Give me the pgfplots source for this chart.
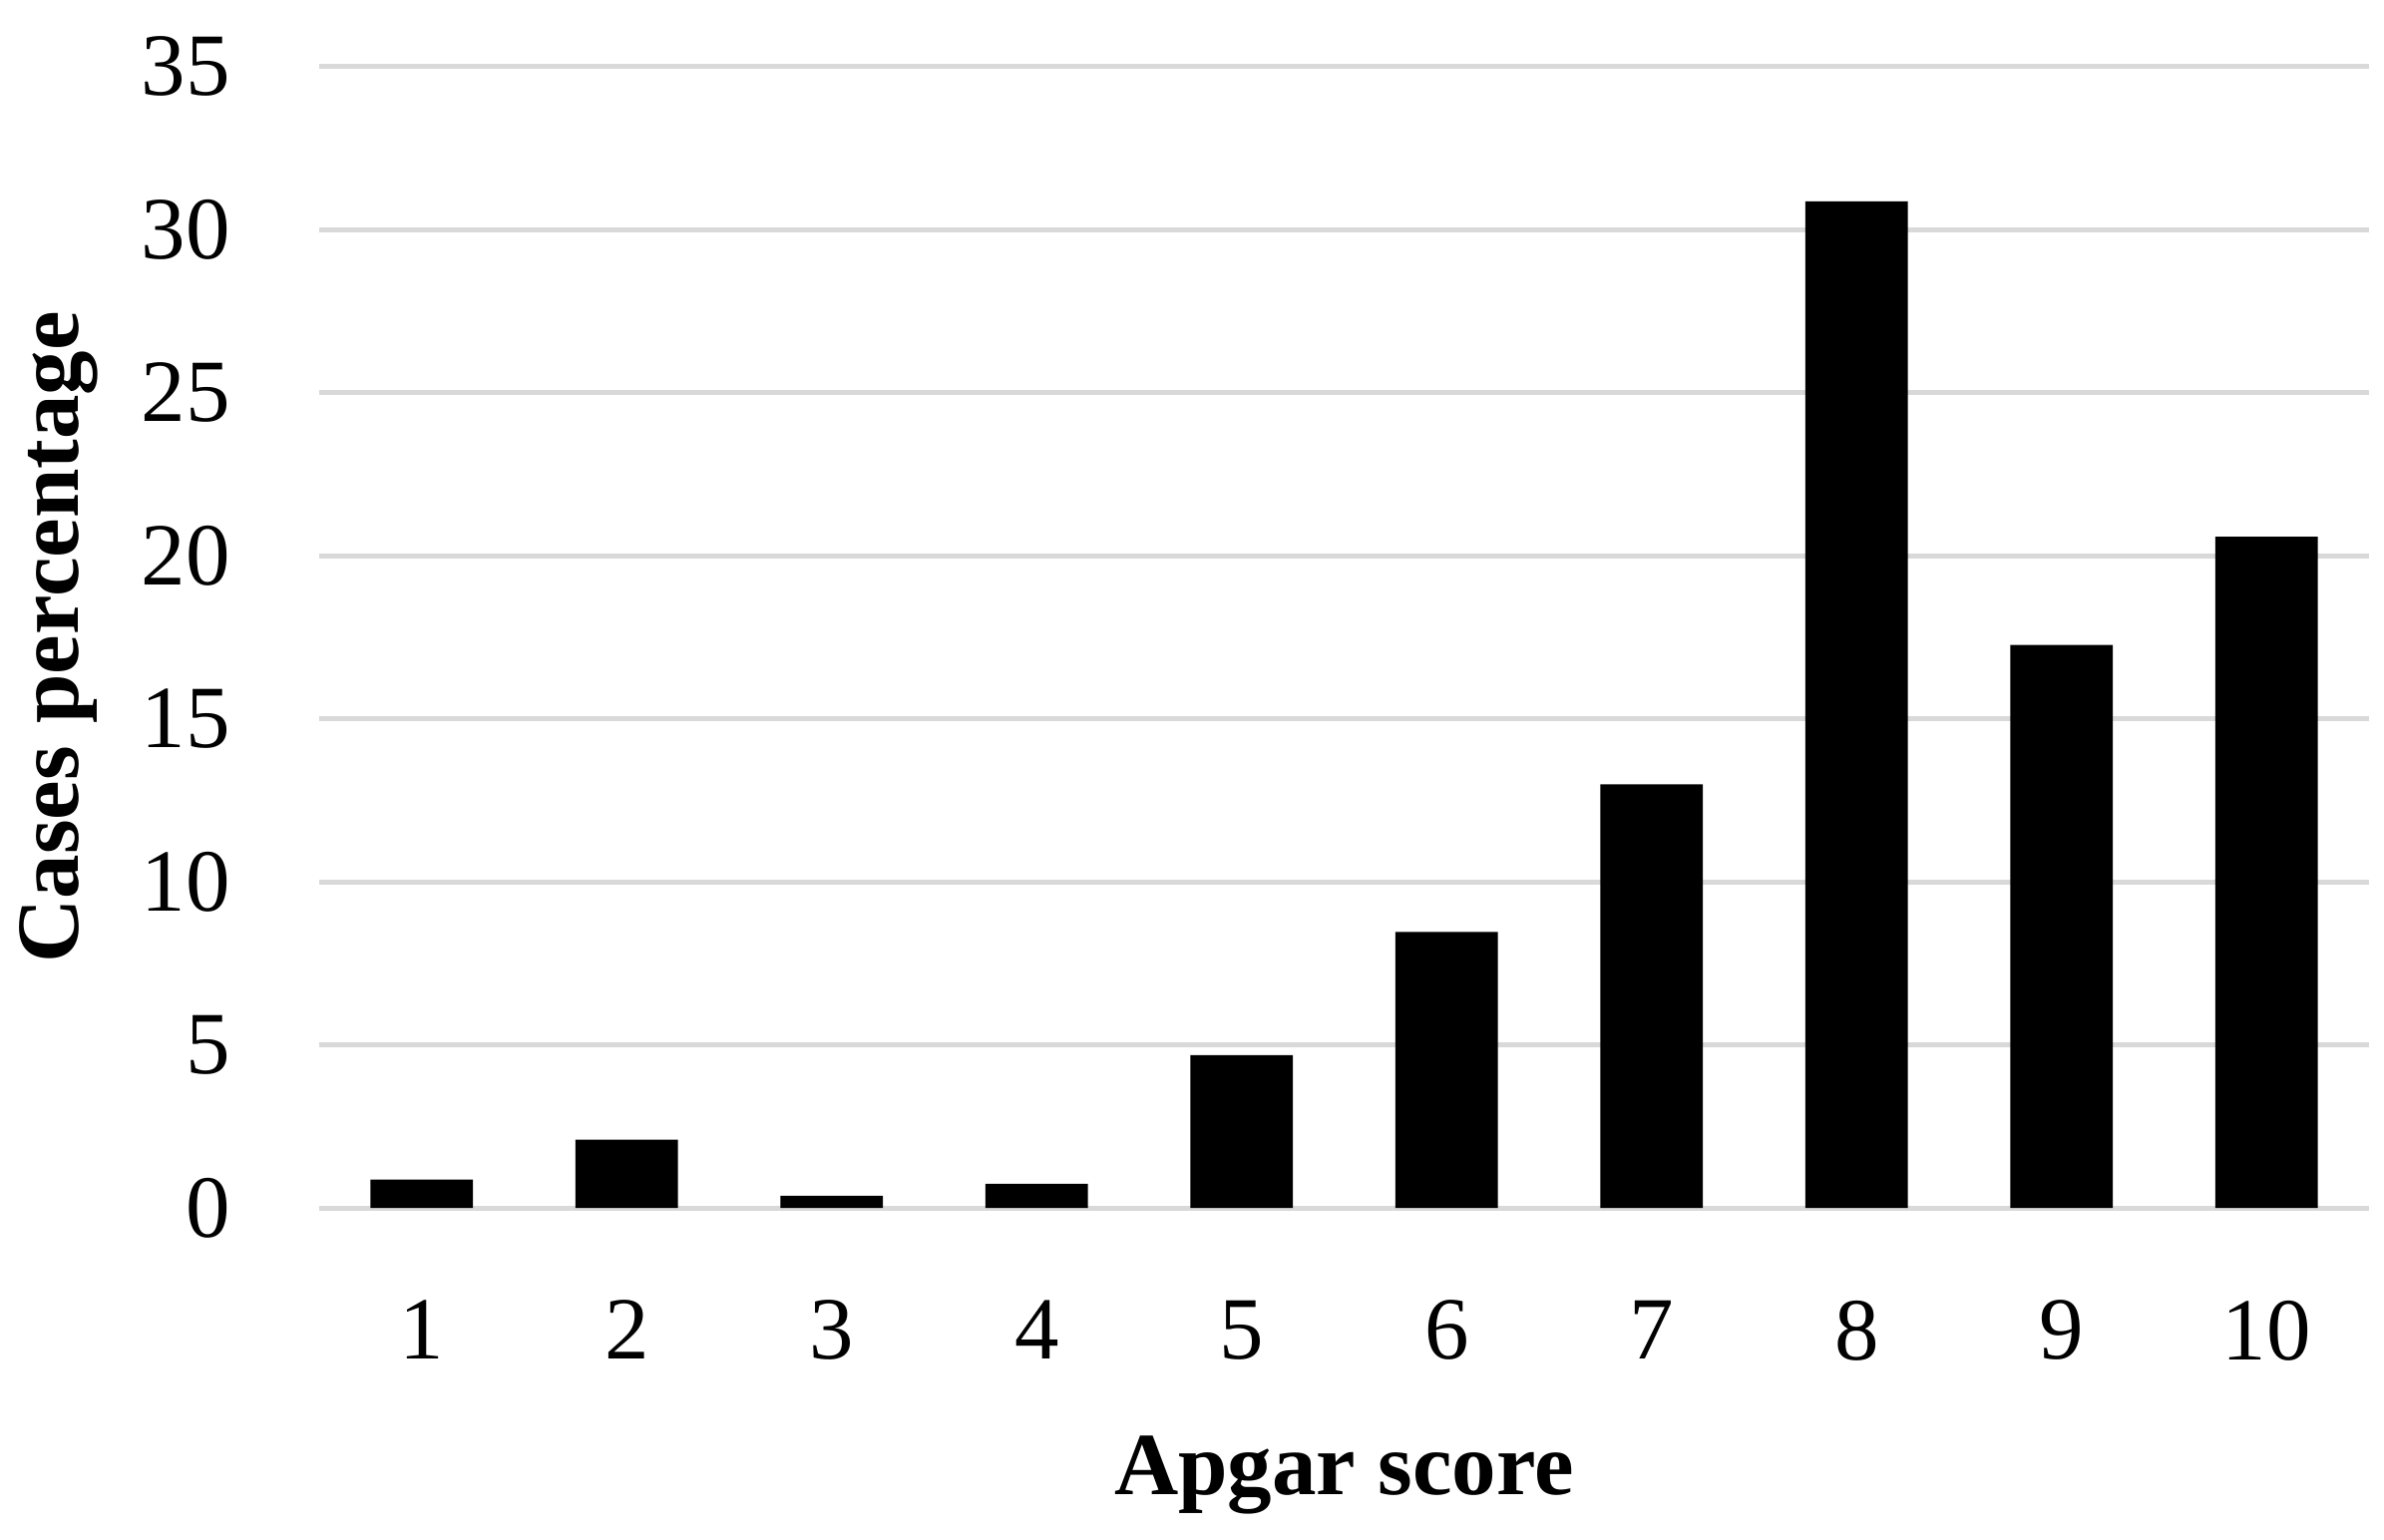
\documentclass[border=0pt]{standalone}
\usepackage{fontspec}
\setmainfont{Liberation Serif}
\usepackage{pgfplots}
\pgfplotsset{compat=1.18}
\begin{document}
\begin{tikzpicture}
\useasboundingbox (-64pt,-66.4pt) rectangle (414pt,242.2pt);
\begin{axis}[
  at={(0,0)}, anchor=south west,
  scale only axis,
  width=411pt, height=228.9pt,
  xmin=0.5, xmax=10.5,
  ymin=0, ymax=35,
  xtick={1,2,3,4,5,6,7,8,9,10},
  ytick={0,5,10,15,20,25,30,35},
  /pgf/number format/assume math mode=true,
  axis line style={draw=none},
  tick style={draw=none},
  ymajorgrids=true,
  major grid style={draw=black!15, line width=1pt},
  ticklabel style={font=\fontsize{17.8}{21.4}\selectfont, inner sep=0pt},
  yticklabel style={anchor=east, xshift=-17.6pt},
  xticklabel style={anchor=north, yshift=-18.4pt},
  xlabel={Apgar score},
  ylabel={Cases percentage},
  label style={font=\fontsize{17.8}{21.4}\selectfont\bfseries, inner sep=0pt},
  xlabel style={at={(axis description cs:0.5,0)}, anchor=base, yshift=-57.4pt},
  ylabel style={at={(axis description cs:0,0.5)}, anchor=base, yshift=48.2pt},
  clip=false,
]
\addplot[ybar, bar width=0.5, fill=black, draw=none] coordinates {
  (1,0.87) (2,2.09) (3,0.37) (4,0.74) (5,4.68)
  (6,8.46) (7,12.99) (8,30.86) (9,17.26) (10,20.58)
};
\end{axis}
\end{tikzpicture}
\end{document}
